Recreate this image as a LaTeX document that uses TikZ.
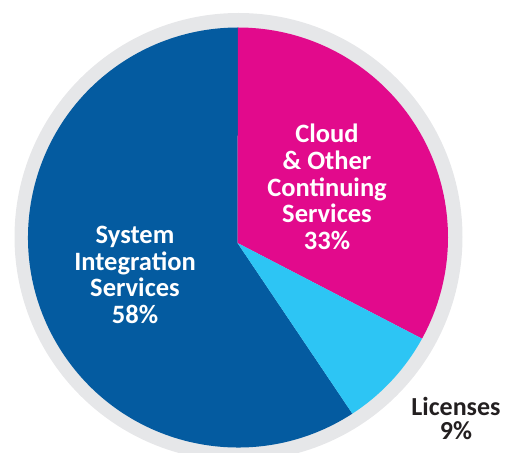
\documentclass[tikz,border=0pt]{standalone}
\usepackage{fontspec}
\setmainfont{Carlito}
\usetikzlibrary{calc}
\definecolor{sisblue}{HTML}{045BA0}
\definecolor{cloudmag}{HTML}{E20A8C}
\definecolor{liclight}{HTML}{2DC5F4}
\definecolor{ringgrey}{HTML}{E6E7E9}
\definecolor{labeldark}{HTML}{231F20}
\tikzset{
  inlabel/.style={text=white, font=\bfseries\fontsize{26.5}{26.6}\selectfont, align=center, inner sep=0pt},
  outlabel/.style={text=labeldark, font=\bfseries\fontsize{26}{24}\selectfont, align=center, inner sep=0pt}
}
\begin{document}
\begin{tikzpicture}[x=1pt,y=1pt]
\useasboundingbox (0,0) rectangle (507,453);
\begin{scope}
\clip (0,0) rectangle (507,453);
\fill[ringgrey] (238.5,216) circle[radius=224];
\end{scope}
\coordinate (O) at (238,215.5);
\coordinate (A) at (237.5,210);
\fill[sisblue] (A) -- ($(O)+(-57:210)$) arc[start angle=-57, end angle=-270, radius=210] -- cycle;
\fill[cloudmag] (A) -- ($(O)+(90:210)$) arc[start angle=90, end angle=-28.8, radius=210] -- cycle;
\fill[liclight] (A) -- ($(O)+(-28.8:210)$) arc[start angle=-28.8, end angle=-57, radius=210] -- cycle;
\node[inlabel] (cloud) at (327,266) {Cloud\\\& Other\\Continuing\\Services\\33\%};
\node[inlabel] (sis) at (135,178) {System\\Integration\\Services\\58\%};
\node[outlabel] (lic) at (456,35) {Licenses\\9\%};
\end{tikzpicture}
\end{document}
